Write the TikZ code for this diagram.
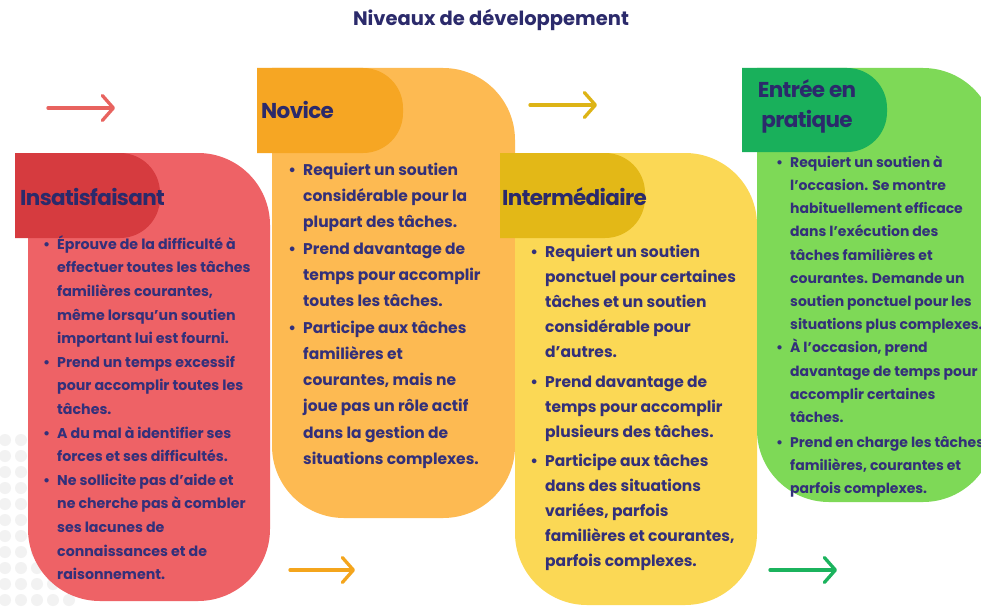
\documentclass[tikz,border=0pt]{standalone}
\usepackage{fontspec}
\setmainfont{Poppins}
\usetikzlibrary{arrows.meta}
\definecolor{ink}{HTML}{33307A}
\definecolor{titleink}{HTML}{2B2A6B}
\definecolor{redbody}{HTML}{EE6266}
\definecolor{redtab}{HTML}{D63B3F}
\definecolor{orbody}{HTML}{FDBA52}
\definecolor{ortab}{HTML}{F6A623}
\definecolor{yebody}{HTML}{FBD855}
\definecolor{yetab}{HTML}{E3B817}
\definecolor{grbody}{HTML}{7ED957}
\definecolor{grtab}{HTML}{19B05B}
\definecolor{redarr}{HTML}{E8635F}
\definecolor{orarr}{HTML}{F4A51C}
\definecolor{yearr}{HTML}{DDB416}
\definecolor{grarr}{HTML}{1BB35D}
\newcommand\cardshape[5]{\fill[#1] (#2,#3) [rounded corners=72pt] -- (#4,#3) -- (#4,#5) -- (#2,#5) -- (#2,#3);}
\newcommand\tabshape[5]{\fill[#1] (#2,#3) [rounded corners=40pt] -- (#4,#3) -- (#4,#5) -- (#2,#5);}
\newcommand\bul{\llap{•\hspace{7pt}}}
\newcommand\topstrut{\rule{0pt}{18pt}}
\begin{document}
\begin{tikzpicture}[x=1pt,y=-1pt,
  headtxt/.style={inner sep=0pt, text=titleink, font=\fontsize{21.5}{30}\selectfont\bfseries\addfontfeatures{LetterSpace=-3}},
  bodytxt/.style={inner sep=0pt, anchor=north west, align=left, text=ink},
  arr/.style={line width=3.3pt, line cap=round, -{Straight Barb[length=11pt,width=25pt,round]}}]
\useasboundingbox (0,0) rectangle (981,607);
\clip (0,0) rectangle (981,607);
\fill[white] (0,0) rectangle (981,607);
% faint dots
\foreach \xx in {5,21,37,53,69} \foreach \yy in {440,456,...,600} \fill[black!5] (\xx,\yy) circle (6pt);
% title
\node[inner sep=0pt, text=titleink, font=\fontsize{19.5}{24}\selectfont\bfseries] (title) at (491,20) {Niveaux de développement};
% cards
\cardshape{redbody}{28}{153}{270}{601}
\tabshape{redtab}{15}{153}{160}{238}
\cardshape{orbody}{272}{68}{515}{518}
\tabshape{ortab}{257}{68}{403}{153}
\cardshape{yebody}{515}{153}{757}{605}
\tabshape{yetab}{500}{153}{645}{238}
\cardshape{grbody}{757}{68}{995}{502}
\tabshape{grtab}{742}{68}{887}{152}
% headers
\node[headtxt, anchor=west] (h1) at (20,197) {Insatisfaisant};
\node[headtxt, anchor=west] (h2) at (261,110) {Novice};
\node[headtxt, anchor=west] (h3) at (502,197) {Intermédiaire};
\node[headtxt, align=center] (h4) at (807,106) {Entrée en\\pratique};
% arrows
\coordinate (a1s) at (48,108); \coordinate (a1e) at (115,108);
\coordinate (a2s) at (290,570); \coordinate (a2e) at (355,570);
\coordinate (a3s) at (530,105); \coordinate (a3e) at (597,105);
\coordinate (a4s) at (770,570); \coordinate (a4e) at (837,570);
\draw[arr, redarr] (a1s) -- (a1e);
\draw[arr, orarr] (a2s) -- (a2e);
\draw[arr, yearr] (a3s) -- (a3e);
\draw[arr, grarr] (a4s) -- (a4e);
% body texts
\node[bodytxt, font=\fontsize{14.2}{23.6}\selectfont\bfseries] (t1) at (57,231) {\topstrut\bul Éprouve de la difficulté à\\
effectuer toutes les tâches\\
familières courantes,\\
même lorsqu’un soutien\\
important lui est fourni.\\
\bul Prend un temps excessif\\
pour accomplir toutes les\\
tâches.\\
\bul A du mal à identifier ses\\
forces et ses difficultés.\\
\bul Ne sollicite pas d’aide et\\
ne cherche pas à combler\\
ses lacunes de\\
connaissances et de\\
raisonnement.};
\node[bodytxt, font=\fontsize{15.5}{26.3}\selectfont\bfseries] (t2) at (303,157) {\topstrut\bul Requiert un soutien\\
considérable pour la\\
plupart des tâches.\\
\bul Prend davantage de\\
temps pour accomplir\\
toutes les tâches.\\
\bul Participe aux tâches\\
familières et\\
courantes, mais ne\\
joue pas un rôle actif\\
dans la gestion de\\
situations complexes.};
\node[bodytxt, font=\fontsize{15.5}{25}\selectfont\bfseries] (t3) at (545,239) {\topstrut\bul Requiert un soutien\\
ponctuel pour certaines\\
tâches et un soutien\\
considérable pour\\
d’autres.\\[5pt]
\bul Prend davantage de\\
temps pour accomplir\\
plusieurs des tâches.\\[4pt]
\bul Participe aux tâches\\
dans des situations\\
variées, parfois\\
familières et courantes,\\
parfois complexes.};
\node[bodytxt, font=\fontsize{14}{23.2}\selectfont\bfseries] (t4) at (790,149) {\topstrut\bul Requiert un soutien à\\
l’occasion. Se montre\\
habituellement efficace\\
dans l’exécution des\\
tâches familières et\\
courantes. Demande un\\
soutien ponctuel pour les\\
situations plus complexes.\\
\bul À l’occasion, prend\\
davantage de temps pour\\
accomplir certaines\\
tâches.\\[1.5pt]
\bul Prend en charge les tâches\\
familières, courantes et\\
parfois complexes.};
\end{tikzpicture}
\end{document}
